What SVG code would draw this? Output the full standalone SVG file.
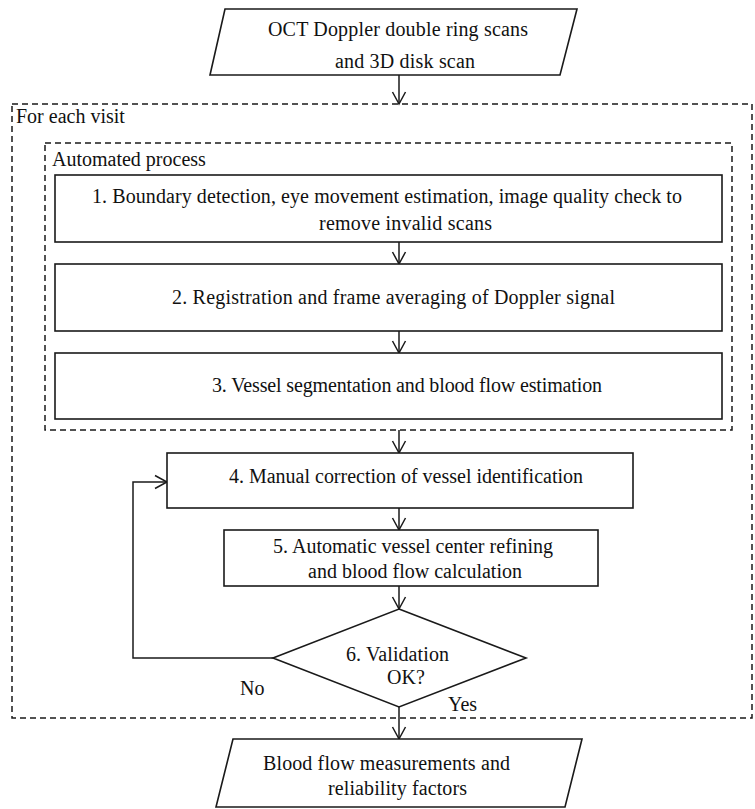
<svg xmlns="http://www.w3.org/2000/svg" width="755" height="809" viewBox="0 0 755 809" font-family="'Liberation Serif', 'DejaVu Serif', serif">
<style>
  .bg { fill: #ffffff; }
  .shape { fill: #ffffff; stroke: #1a1a1a; stroke-width: 1.6; }
  .dash { fill: none; stroke: #1a1a1a; stroke-width: 1.5; stroke-dasharray: 6 4; }
  .conn { fill: none; stroke: #1a1a1a; stroke-width: 1.5; }
  text { font-family: 'Liberation Serif', 'DejaVu Serif', serif; font-size: 20px; fill: #111111; }
</style>
<defs>
  <marker id="arrow" viewBox="-13 -8 15 16" refX="0" refY="0" markerWidth="15" markerHeight="16" markerUnits="userSpaceOnUse" orient="auto">
    <path d="M-12,-6.5 L0,0 L-12,6.5" fill="none" stroke="#1a1a1a" stroke-width="1.5"/>
  </marker>
</defs>
<rect class="bg" x="0" y="0" width="755" height="809"/>

<g id="group-visit">
  <rect class="dash" x="12" y="104" width="740" height="614"/>
  <text x="16" y="123">For each visit</text>
</g>
<g id="group-automated">
  <rect class="dash" x="45" y="143" width="687" height="287"/>
  <text x="52" y="166">Automated process</text>
</g>

<g id="connectors">
  <line class="conn" x1="399" y1="75" x2="399" y2="104" marker-end="url(#arrow)"/>
  <line class="conn" x1="399" y1="242" x2="399" y2="264" marker-end="url(#arrow)"/>
  <line class="conn" x1="399" y1="331" x2="399" y2="353" marker-end="url(#arrow)"/>
  <line class="conn" x1="399" y1="430" x2="399" y2="453" marker-end="url(#arrow)"/>
  <line class="conn" x1="399" y1="508" x2="399" y2="530" marker-end="url(#arrow)"/>
  <line class="conn" x1="399" y1="586" x2="399" y2="609" marker-end="url(#arrow)"/>
  <line class="conn" x1="399" y1="707" x2="399" y2="739" marker-end="url(#arrow)"/>
  <polyline class="conn" points="273,658 133,658 133,482 167,482" marker-end="url(#arrow)"/>
</g>

<g id="input">
  <polygon class="shape" points="225,9 577,9 560,75 210,75"/>
  <text x="268" y="36" textLength="260" lengthAdjust="spacing">OCT Doppler double ring scans</text>
  <text x="335" y="68" textLength="140" lengthAdjust="spacing">and 3D disk scan</text>
</g>

<g id="step1">
  <rect class="shape" x="55" y="175" width="667" height="67"/>
  <text x="92" y="203" textLength="590" lengthAdjust="spacing">1. Boundary detection, eye movement estimation, image quality check to</text>
  <text x="319" y="230" textLength="173" lengthAdjust="spacing">remove invalid scans</text>
</g>

<g id="step2">
  <rect class="shape" x="55" y="264" width="667" height="67"/>
  <text x="172" y="304" textLength="443" lengthAdjust="spacing">2. Registration and frame averaging of Doppler signal</text>
</g>

<g id="step3">
  <rect class="shape" x="55" y="353" width="667" height="66"/>
  <text x="212" y="392" textLength="390" lengthAdjust="spacing">3. Vessel segmentation and blood flow estimation</text>
</g>

<g id="step4">
  <rect class="shape" x="167" y="453" width="466" height="55"/>
  <text x="229" y="483" textLength="354" lengthAdjust="spacing">4. Manual correction of vessel identification</text>
</g>

<g id="step5">
  <rect class="shape" x="224" y="530" width="374" height="56"/>
  <text x="273" y="553" textLength="280" lengthAdjust="spacing">5. Automatic vessel center refining</text>
  <text x="308" y="578" textLength="214" lengthAdjust="spacing">and blood flow calculation</text>
</g>

<g id="step6">
  <polygon class="shape" points="399,609 526,658 399,707 273,658"/>
  <text x="346" y="661" textLength="103" lengthAdjust="spacing">6. Validation</text>
  <text x="387" y="684">OK?</text>
</g>

<g id="labels">
  <text x="240" y="695">No</text>
  <text x="448" y="711">Yes</text>
</g>

<g id="output">
  <polygon class="shape" points="233,739 582,739 565,807 216,807"/>
  <text x="263" y="770" textLength="247" lengthAdjust="spacing">Blood flow measurements and</text>
  <text x="328" y="795" textLength="139" lengthAdjust="spacing">reliability factors</text>
</g>
</svg>
